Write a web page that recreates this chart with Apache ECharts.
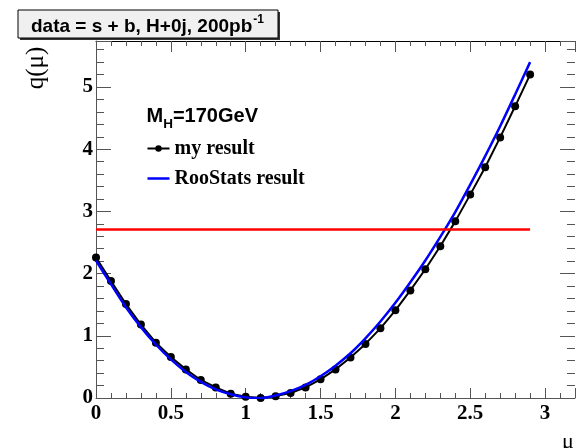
<!DOCTYPE html>
<html>
<head>
<meta charset="utf-8">
<script src="https://cdn.jsdelivr.net/npm/echarts@6/dist/echarts.min.js"></script>
<style>
  html, body { margin: 0; padding: 0; background: #ffffff; }
  #chart { width: 578px; height: 448px; }
</style>
</head>
<body>
<div id="chart"></div>
<script>
// ---- data ----
const MU = [0.0, 0.1, 0.2, 0.3, 0.4, 0.5, 0.6, 0.7, 0.8, 0.9,
            1.0, 1.1, 1.2, 1.3, 1.4, 1.5, 1.6, 1.7, 1.8, 1.9,
            2.0, 2.1, 2.2, 2.3, 2.4, 2.5, 2.6, 2.7, 2.8, 2.9];
const MY_RESULT = [2.26, 1.88, 1.51, 1.18, 0.89, 0.66, 0.46, 0.29, 0.17, 0.07,
                   0.02, 0.00, 0.03, 0.08, 0.17, 0.30, 0.46, 0.65, 0.87, 1.12,
                   1.41, 1.73, 2.07, 2.44, 2.84, 3.27, 3.71, 4.19, 4.69, 5.20];
const ROOSTATS = [2.21, 1.83, 1.46, 1.14, 0.86, 0.62, 0.42, 0.26, 0.14, 0.06,
                  0.01, 0.00, 0.04, 0.11, 0.21, 0.35, 0.52, 0.72, 0.96, 1.23,
                  1.53, 1.86, 2.21, 2.59, 2.99, 3.43, 3.89, 4.37, 4.88, 5.40];
const LEVEL_X = [0.0, 2.9];
const LEVEL_Y = [2.71, 2.71];
const X_RANGE = [0, 3.2];
const Y_RANGE = [0, 5.74];
const SERIES_NAMES = ['my result', 'RooStats result'];
const TITLE_TEXT = 'data = s + b, H+0j, 200pb';
const TITLE_SUP = '-1';
const MASS_LABEL = ['M', 'H', '=170GeV'];
const Y_TITLE = 'q(\u03bc)';
const X_TITLE = '\u03bc';

// ---- helpers ----
const SERIF = '"Liberation Serif", "Times New Roman", serif';
const SANS = '"Liberation Sans", Arial, sans-serif';
const mctx = document.createElement('canvas').getContext('2d');
function textWidth(t, font) { mctx.font = font; return mctx.measureText(t).width; }

const AXIS_COL = '#555555';
function xAxisDef(pos, interval, len, opts) {
  return Object.assign({
    type: 'value', position: pos, min: X_RANGE[0], max: X_RANGE[1], interval: interval,
    axisLine: { show: false, onZero: false }, splitLine: { show: false },
    axisTick: { show: true, inside: true, length: len, lineStyle: { color: AXIS_COL, width: 1 } },
    axisLabel: { show: false }
  }, opts || {});
}
function yAxisDef(pos, interval, len, opts) {
  return Object.assign({
    type: 'value', position: pos, min: Y_RANGE[0], max: Y_RANGE[1], interval: interval,
    axisLine: { show: false, onZero: false }, splitLine: { show: false },
    axisTick: { show: true, inside: true, length: len, lineStyle: { color: AXIS_COL, width: 1 } },
    axisLabel: { show: false }
  }, opts || {});
}
function isMult(v, step) { return Math.abs(v / step - Math.round(v / step)) < 1e-6; }

const labelFont = { fontFamily: SERIF, fontWeight: 'bold', fontSize: 21, color: '#000' };

// ---- graphics: title pave, mass label, axis titles ----
const titleFont = 'bold 19px ' + SANS;
const titleX = 31, titleY = 26.8;
const titleW = textWidth(TITLE_TEXT, titleFont);
const mFont = 'bold 20px ' + SANS;
const subFont = 'bold 13.5px ' + SANS;
const mX = 146.5;
const mW = textWidth(MASS_LABEL[0], mFont);
const hW = textWidth(MASS_LABEL[1], subFont);

const graphics = [
  { type: 'rect', shape: { x: 20, y: 12, width: 260, height: 28 }, style: { fill: '#333' }, z: 10 },
  { type: 'rect', shape: { x: 18, y: 10, width: 260, height: 28 }, style: { fill: '#f0f0f0', stroke: '#000', lineWidth: 1 }, z: 11 },
  { type: 'text', x: titleX, y: titleY, z: 12,
    style: { text: TITLE_TEXT, font: titleFont, fill: '#000', align: 'left', verticalAlign: 'middle' } },
  { type: 'text', x: titleX + titleW + 1, y: 19.5, z: 12,
    style: { text: TITLE_SUP, font: 'bold 12px ' + SANS, fill: '#000', align: 'left', verticalAlign: 'middle' } },
  { type: 'text', x: mX, y: 116.5, z: 12,
    style: { text: MASS_LABEL[0], font: mFont, fill: '#000', align: 'left', verticalAlign: 'middle' } },
  { type: 'text', x: mX + mW, y: 124.5, z: 12,
    style: { text: MASS_LABEL[1], font: subFont, fill: '#000', align: 'left', verticalAlign: 'middle' } },
  { type: 'text', x: mX + mW + hW, y: 116.5, z: 12,
    style: { text: MASS_LABEL[2], font: mFont, fill: '#000', align: 'left', verticalAlign: 'middle' } },
  { type: 'text', x: 36, y: 68, rotation: Math.PI / 2, z: 12,
    style: { text: Y_TITLE, font: '25px ' + SERIF, fill: '#000', align: 'center', verticalAlign: 'middle' } },
  { type: 'text', x: 568, y: 442.6, z: 12,
    style: { text: X_TITLE, font: '22px ' + SERIF, fill: '#000', align: 'center', verticalAlign: 'middle' } }
];

const chart = echarts.init(document.getElementById('chart'), null, { renderer: 'canvas' });
chart.setOption({
  animation: false,
  backgroundColor: '#ffffff',
  grid: { left: 96, top: 41, right: -2, bottom: 50, containLabel: false },
  legend: {
    show: true, orient: 'vertical', left: 146.5, top: 138.5, padding: 0,
    itemWidth: 22, itemHeight: 8, itemGap: 10,
    data: [
      { name: SERIES_NAMES[0] },
      { name: SERIES_NAMES[1], icon: 'path://M0,0L0.01,0M0,8L0.01,8M0,2.75H22V5.25H0Z' }
    ],
    textStyle: { fontFamily: SERIF, fontWeight: 'bold', fontSize: 20, lineHeight: 20, color: '#000' }
  },
  xAxis: [
    xAxisDef('bottom', 0.5, 10, {
      axisLine: { show: true, onZero: false, lineStyle: { color: AXIS_COL, width: 1 } },
      axisLabel: Object.assign({ show: true, margin: 5,
        formatter: v => (isMult(v, 0.5) ? String(v) : '') }, labelFont)
    }),
    xAxisDef('bottom', 0.1, 5),
    xAxisDef('top', 0.5, 11, { axisLine: { show: true, onZero: false, lineStyle: { color: '#000', width: 1 } } }),
    xAxisDef('top', 0.1, 5)
  ],
  yAxis: [
    yAxisDef('left', 1, 15, {
      axisLine: { show: true, onZero: false, lineStyle: { color: AXIS_COL, width: 1 } },
      axisLabel: Object.assign({ show: true, margin: 3, padding: [6, 0, 0, 0],
        formatter: v => (isMult(v, 1) ? String(v) : '') }, labelFont)
    }),
    yAxisDef('left', 0.2, 8),
    yAxisDef('right', 1, 15),
    yAxisDef('right', 0.2, 8)
  ],
  graphic: graphics,
  series: [
    {
      name: SERIES_NAMES[0], type: 'line', xAxisIndex: 0, yAxisIndex: 0,
      data: MU.map((x, i) => [x, MY_RESULT[i]]),
      symbol: 'circle', symbolSize: 8, showSymbol: true,
      lineStyle: { color: '#000', width: 2 },
      itemStyle: { color: '#000' },
      z: 3
    },
    {
      name: SERIES_NAMES[1], type: 'line', xAxisIndex: 0, yAxisIndex: 0,
      data: MU.map((x, i) => [x, ROOSTATS[i]]),
      symbol: 'none', smooth: 0.3,
      lineStyle: { color: '#0000ff', width: 2.5 },
      itemStyle: { color: '#0000ff' },
      z: 4
    },
    {
      name: 'level', type: 'line', xAxisIndex: 0, yAxisIndex: 0,
      data: LEVEL_X.map((x, i) => [x, LEVEL_Y[i]]),
      symbol: 'none',
      lineStyle: { color: '#ff0000', width: 2.5 },
      itemStyle: { color: '#ff0000' },
      z: 5
    }
  ]
});
</script>
</body>
</html>
